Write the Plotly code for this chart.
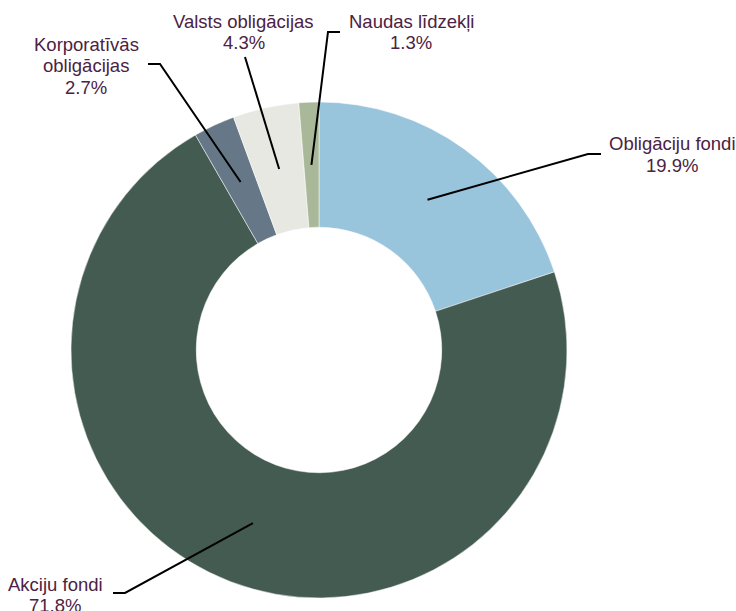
import math
import plotly.graph_objects as go

labels = ["Obligāciju fondi", "Akciju fondi", "Korporatīvās obligācijas", "Valsts obligācijas", "Naudas līdzekļi"]
label_lines = [["Obligāciju fondi"], ["Akciju fondi"], ["Korporatīvās", "obligācijas"],
               ["Valsts obligācijas"], ["Naudas līdzekļi"]]
values = [19.9, 71.8, 2.7, 4.3, 1.3]
colors = ["#98C4DC", "#445B51", "#667787", "#E8E8E3", "#A8B898"]

W, H = 736, 611
CX, CY, R = 319, 350, 248
HOLE = 0.495
LINE_H = 21.5
FONT = dict(family="Liberation Sans, Arial, sans-serif", size=18.5, color="#4B2242")

# label layout positions (pixels): text centre x, first line y, elbow, end of horizontal
label_pos = [
    dict(tx=672, ty=144, elbow=(588, 154), end=(601, 154)),
    dict(tx=55, ty=584, elbow=(125, 593), end=(113, 593)),
    dict(tx=86, ty=44, elbow=(160, 64), end=(148, 64)),
    dict(tx=244, ty=21, elbow=(245, 57), end=None),
    dict(tx=411, ty=21, elbow=(328, 32), end=(340, 32)),
]

def px(x):
    return x / W

def py(y):
    return 1 - y / H

fig = go.Figure(go.Pie(
    labels=labels, values=values, sort=False, direction="clockwise", rotation=0,
    hole=HOLE, marker=dict(colors=colors, line=dict(color="white", width=0.5)),
    textinfo="none", showlegend=False, hoverinfo="label+percent",
    domain=dict(x=[px(CX - R), px(CX + R)], y=[py(CY + R), py(CY - R)]),
))

total = sum(values)
cum = 0.0
shapes = []
annotations = []
rmid = R * (1 + HOLE) / 2
for lines, v, pos in zip(label_lines, values, label_pos):
    mid = (cum + v / 2) / total * 2 * math.pi
    cum += v
    tipx = CX + rmid * math.sin(mid)
    tipy = CY - rmid * math.cos(mid)
    path = f"M {px(tipx)} {py(tipy)} L {px(pos['elbow'][0])} {py(pos['elbow'][1])}"
    if pos["end"]:
        path += f" L {px(pos['end'][0])} {py(pos['end'][1])}"
    shapes.append(dict(type="path", path=path, xref="paper", yref="paper",
                       line=dict(color="black", width=2)))
    for i, t in enumerate(lines + [f"{v:.1f}%"]):
        annotations.append(dict(x=px(pos["tx"]), y=py(pos["ty"] + i * LINE_H), xref="paper", yref="paper",
                                text=t, showarrow=False, xanchor="center", yanchor="middle",
                                align="center", font=FONT))

fig.update_layout(
    width=W, height=H, margin=dict(l=0, r=0, t=0, b=0),
    paper_bgcolor="white", plot_bgcolor="white",
    shapes=shapes, annotations=annotations,
)
fig.write_html("out.html", config={"displayModeBar": False},
               post_script="document.body.style.margin='0';document.body.style.overflow='hidden';")
